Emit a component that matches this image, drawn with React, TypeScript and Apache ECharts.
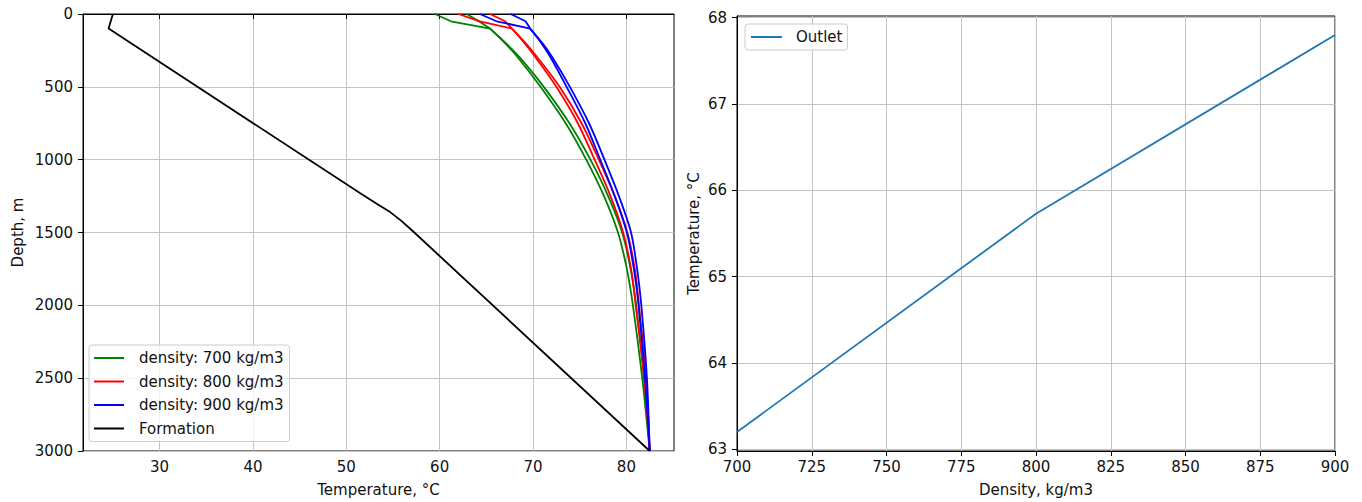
import React, { useEffect, useRef } from "react";
import * as echarts from "echarts";

// ---- Left chart data: temperature (°C) vs depth (m) ----
// near-surface section (0–100 m)
const topDepths = [0, 50, 100];
const green700aTop = [59.5, 61.2, 65.4];
const green700bTop = [62.9, 64.2, 65.4];
const red800aTop = [62.0, 64.3, 67.75];
const red800bTop = [65.4, 67.0, 67.75];
const blue900aTop = [64.3, 66.1, 69.7];
const blue900bTop = [67.6, 69.2, 69.7];

// main section (100–3000 m)
const depths = [100, 200, 300, 500, 750, 1000, 1250, 1500, 1750, 2000, 2500, 3000];
const green700a = [65.4, 67.0, 68.4, 70.8, 73.5, 75.7, 77.6, 79.1, 80.05, 80.7, 81.7, 82.5];
const green700b = [65.4, 67.1, 68.6, 71.15, 73.9, 76.15, 78.05, 79.55, 80.45, 81.05, 81.9, 82.5];
const red800a = [67.75, 69.1, 70.3, 72.5, 74.8, 76.6, 78.3, 79.65, 80.5, 81.0, 81.9, 82.5];
const red800b = [67.75, 69.2, 70.5, 72.85, 75.2, 77.05, 78.75, 80.1, 80.9, 81.35, 82.1, 82.5];
const blue900a = [69.7, 70.9, 71.9, 73.6, 75.6, 77.2, 78.75, 80.05, 80.8, 81.3, 82.0, 82.5];
const blue900b = [69.7, 71.0, 72.1, 73.95, 76.0, 77.65, 79.2, 80.5, 81.15, 81.6, 82.2, 82.5];

const formationDepths = [0, 100, 1231, 1305, 1360, 1420, 1495, 3000];
const formationTemps = [25.0, 24.54, 51.5, 53.3, 54.7, 55.9, 57.2, 82.5];

const tempTicks = [30, 40, 50, 60, 70, 80];
const legendNames = ["density: 700 kg/m3", "density: 800 kg/m3", "density: 900 kg/m3", "Formation"];

// ---- Right chart data: outlet temperature vs density ----
const densities = [700, 800, 900];
const outletTemps = [63.2, 65.73, 67.8];
const outletTicks = [63, 64, 65, 66, 67, 68];

const FONT = "DejaVu Sans";
const FS = 15;
const TXT = "#111";
const GRID = "#c4c4c4";

const pair = (temps: number[], ds: number[]) => temps.map((t, i) => [t, ds[i]]);

export default function App() {
  const ref = useRef<HTMLDivElement>(null);
  useEffect(() => {
    if (!ref.current) return;
    const chart = echarts.init(ref.current, null, { renderer: "svg" });

    const axisCommon = {
      axisLine: { show: true, lineStyle: { color: "#000", width: 1 } },
      axisTick: { show: true, inside: false, length: 5, lineStyle: { color: "#000", width: 1 } },
      splitLine: { show: true, lineStyle: { color: GRID, width: 1 } },
      axisLabel: { color: TXT, fontSize: FS, fontFamily: FONT },
      nameTextStyle: { color: TXT, fontSize: FS, fontFamily: FONT },
    };

    const densLine = (name: string, color: string, temps: number[], ds: number[], smooth: number) => ({
      type: "line",
      name,
      xAxisIndex: 0,
      yAxisIndex: 0,
      data: pair(temps, ds),
      symbol: "none",
      smooth,
      lineStyle: { color, width: 1.8 },
      itemStyle: { color },
    });

    const legendText = {
      color: TXT,
      fontSize: FS,
      fontFamily: FONT,
      lineHeight: 15,
      padding: [0, 0, 0, 10],
    };

    const option: any = {
      animation: false,
      backgroundColor: "#fff",
      textStyle: { fontFamily: FONT },
      grid: [
        { left: 83, top: 14, width: 591, height: 437, show: true, borderColor: "#000", borderWidth: 1, backgroundColor: "transparent" },
        { left: 737, top: 16, width: 598, height: 436, show: true, borderColor: "#000", borderWidth: 1, backgroundColor: "transparent" },
      ],
      xAxis: [
        {
          ...axisCommon,
          type: "value",
          gridIndex: 0,
          min: 21.8,
          max: 85.1,
          name: "Temperature, °C",
          nameLocation: "middle",
          nameGap: 31,
          axisTick: { ...axisCommon.axisTick, customValues: tempTicks },
          axisLabel: { ...axisCommon.axisLabel, margin: 8, customValues: tempTicks },
        },
        {
          ...axisCommon,
          type: "value",
          gridIndex: 1,
          min: 700,
          max: 900,
          interval: 25,
          name: "Density, kg/m3",
          nameLocation: "middle",
          nameGap: 31,
          axisLabel: { ...axisCommon.axisLabel, margin: 8 },
        },
      ],
      yAxis: [
        {
          ...axisCommon,
          type: "value",
          gridIndex: 0,
          inverse: true,
          min: 0,
          max: 3000,
          interval: 500,
          name: "Depth, m",
          nameLocation: "middle",
          nameGap: 58,
          axisLabel: { ...axisCommon.axisLabel, margin: 10, formatter: (v: number) => String(v) },
        },
        {
          ...axisCommon,
          type: "value",
          gridIndex: 1,
          min: 62.98,
          max: 68.02,
          name: "Temperature, °C",
          nameLocation: "middle",
          nameGap: 36,
          axisTick: { ...axisCommon.axisTick, customValues: outletTicks },
          axisLabel: { ...axisCommon.axisLabel, margin: 10, customValues: outletTicks },
        },
      ],
      legend: [
        {
          data: legendNames,
          orient: "vertical",
          left: 89,
          top: 345,
          itemWidth: 30,
          itemHeight: 14,
          itemGap: 8.5,
          padding: [5.5, 6, 5.5, 4],
          backgroundColor: "rgba(255,255,255,0.8)",
          borderColor: "#cccccc",
          borderWidth: 1,
          borderRadius: 3,
          itemStyle: { opacity: 0 },
          textStyle: legendText,
        },
        {
          data: ["Outlet"],
          orient: "vertical",
          left: 745,
          top: 24,
          itemWidth: 31,
          itemHeight: 14,
          padding: [5.5, 5, 5.5, 5],
          backgroundColor: "rgba(255,255,255,0.8)",
          borderColor: "#cccccc",
          borderWidth: 1,
          borderRadius: 3,
          itemStyle: { opacity: 0 },
          textStyle: { ...legendText, padding: [0, 0, 0, 9] },
        },
      ],
      series: [
        densLine(legendNames[0], "#008000", green700aTop, topDepths, 0),
        densLine(legendNames[0], "#008000", green700bTop, topDepths, 0),
        densLine(legendNames[1], "#ff0000", red800aTop, topDepths, 0),
        densLine(legendNames[1], "#ff0000", red800bTop, topDepths, 0),
        densLine(legendNames[2], "#0000ff", blue900aTop, topDepths, 0),
        densLine(legendNames[2], "#0000ff", blue900bTop, topDepths, 0),
        densLine(legendNames[0], "#008000", green700a, depths, 0.3),
        densLine(legendNames[0], "#008000", green700b, depths, 0.3),
        densLine(legendNames[1], "#ff0000", red800a, depths, 0.3),
        densLine(legendNames[1], "#ff0000", red800b, depths, 0.3),
        densLine(legendNames[2], "#0000ff", blue900a, depths, 0.3),
        densLine(legendNames[2], "#0000ff", blue900b, depths, 0.3),
        {
          type: "line",
          name: legendNames[3],
          xAxisIndex: 0,
          yAxisIndex: 0,
          data: pair(formationTemps, formationDepths),
          symbol: "none",
          lineStyle: { color: "#000", width: 1.8 },
          itemStyle: { color: "#000" },
        },
        {
          type: "line",
          name: "Outlet",
          xAxisIndex: 1,
          yAxisIndex: 1,
          data: densities.map((d, i) => [d, outletTemps[i]]),
          symbol: "none",
          lineStyle: { color: "#1f77b4", width: 1.8 },
          itemStyle: { color: "#1f77b4" },
        },
      ],
    };

    chart.setOption(option);
    return () => chart.dispose();
  }, []);

  return (
    <div
      ref={ref}
      style={{ position: "fixed", left: 0, top: 0, width: 1362, height: 502, background: "#fff" }}
    />
  );
}
